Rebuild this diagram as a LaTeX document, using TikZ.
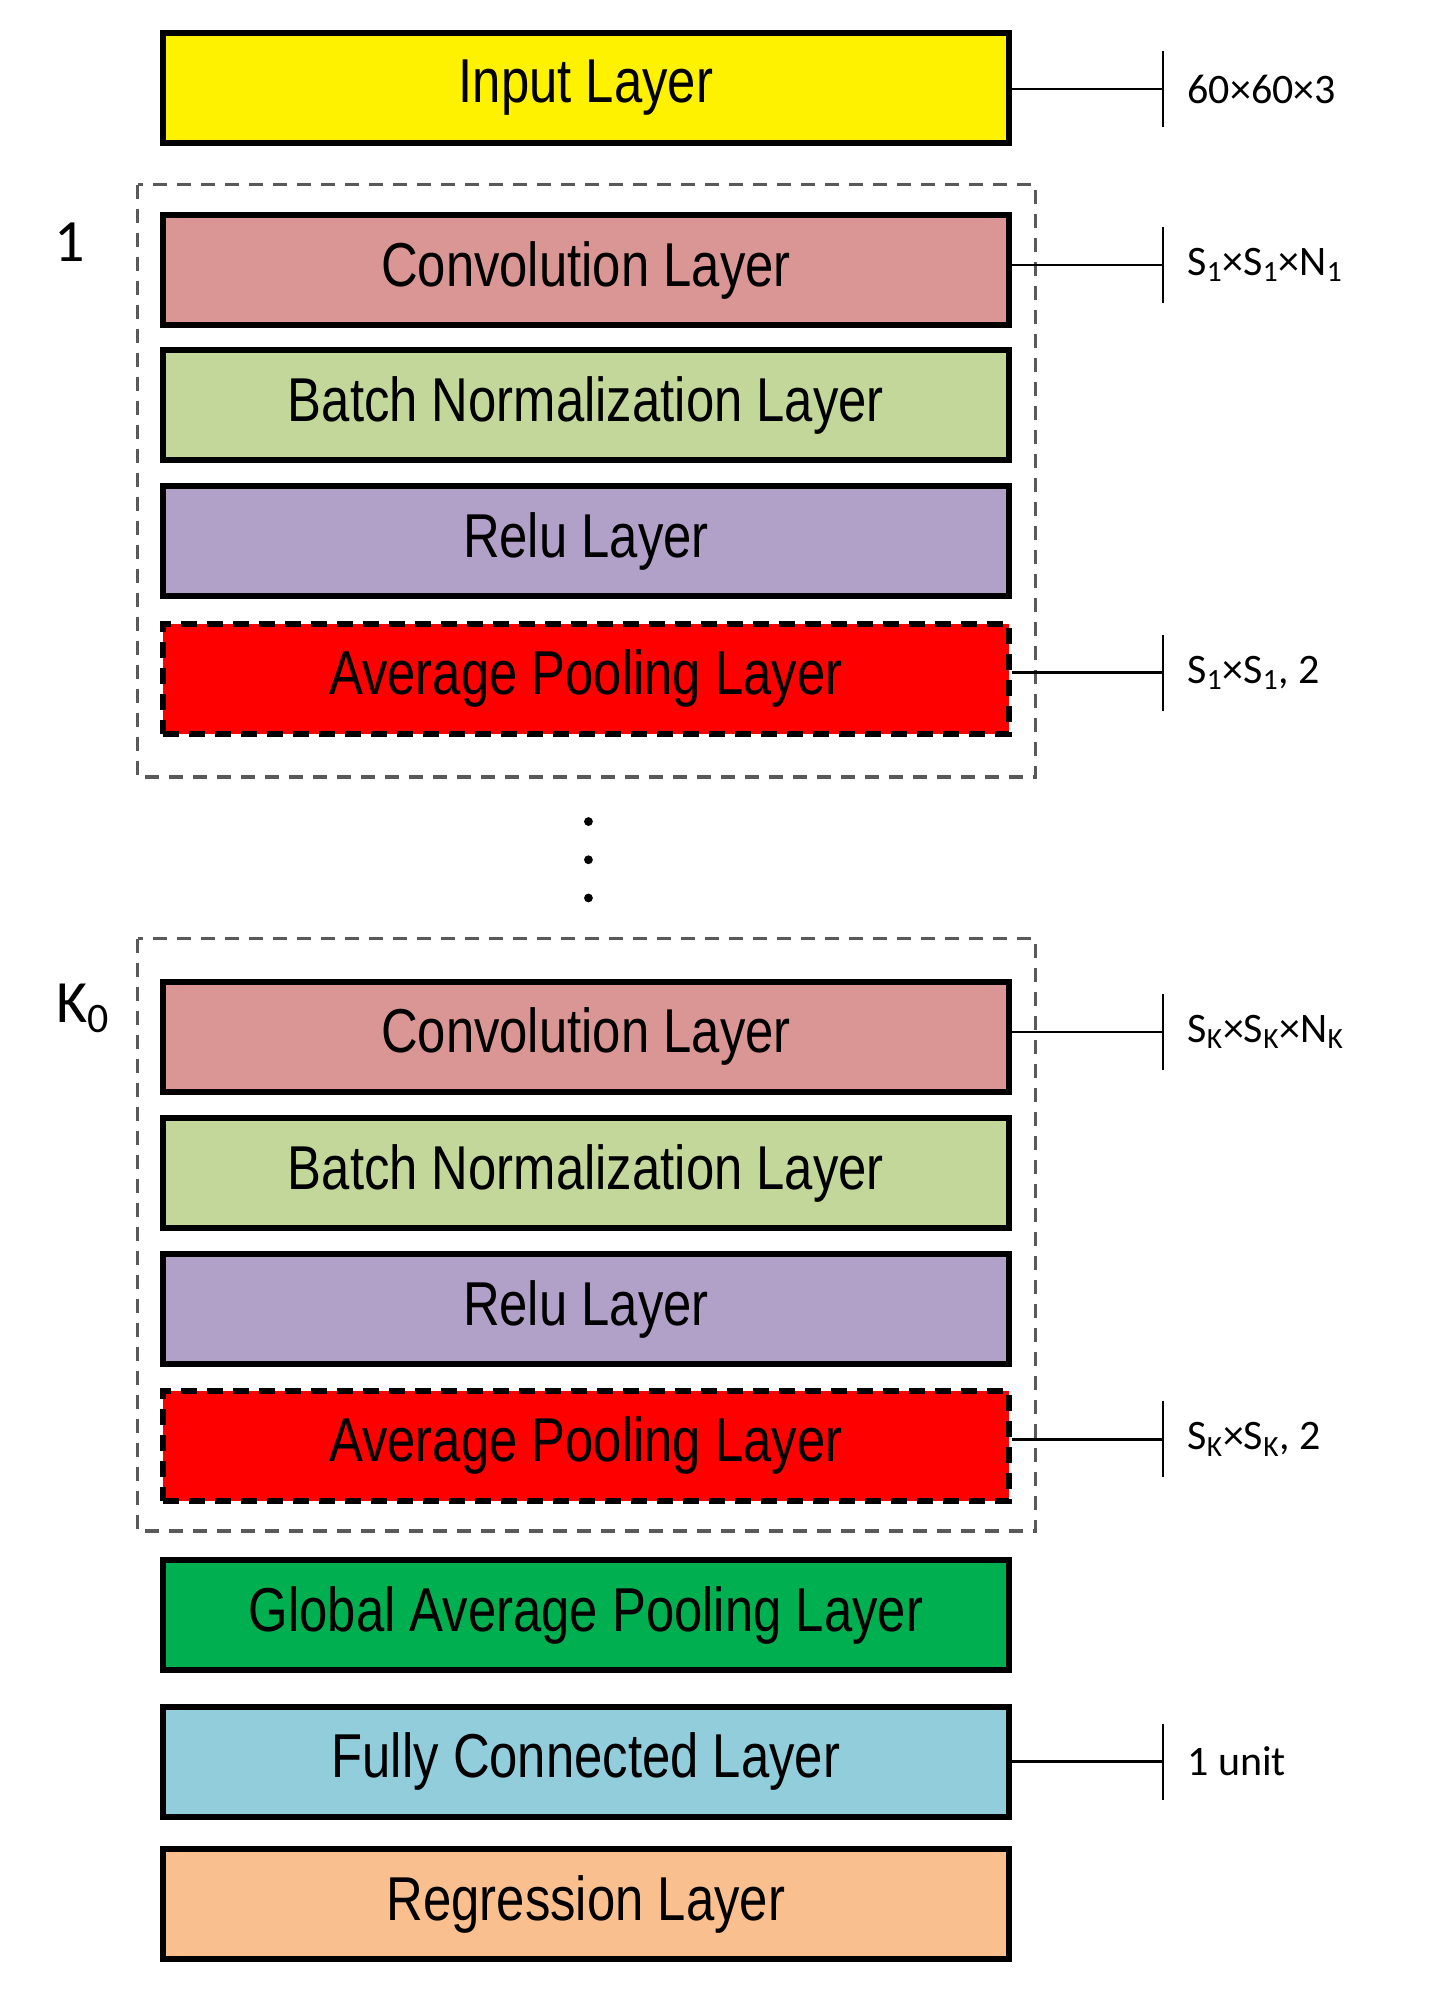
\documentclass[tikz,border=0pt]{standalone}
\usepackage{fontspec}
\setmainfont{Liberation Sans}[FakeStretch=0.82]
\newfontfamily\lab{Carlito}
\begin{document}
\begin{tikzpicture}[x=0.637pt,y=-0.637pt,
  box/.style={draw=black,line width=3pt,minimum width=423pt,minimum height=55pt,inner sep=0pt,font=\fontsize{31}{34}\selectfont},
  pool/.style={box,fill=red,dash pattern=on 8pt off 5pt},
  grp/.style={draw=black!65,line width=1.6pt,dash pattern=on 7pt off 5pt},
  ann/.style={line width=1.2pt},
  lt/.style={font=\lab\fontsize{21}{24}\selectfont,anchor=west,inner sep=0pt}]
\useasboundingbox (0,0) rectangle (1130,1571);
\definecolor{conv}{HTML}{DA9694}\definecolor{bn}{HTML}{C4D79B}
\definecolor{relu}{HTML}{B1A0C7}\definecolor{gap}{HTML}{00B050}
\definecolor{fc}{HTML}{92CDDC}\definecolor{reg}{HTML}{FABF8F}
\draw[grp] (108,145) rectangle (813,610);
\draw[grp] (108,737) rectangle (813,1202);
\node[box,fill=yellow] (in) at (460,69) {Input Layer};
\node[box,fill=conv] (c1) at (460,212) {Convolution Layer};
\node[box,fill=bn] (b1) at (460,318) {Batch Normalization Layer};
\node[box,fill=relu] (r1) at (460,425) {Relu Layer};
\node[pool] (p1) at (460,533) {Average Pooling Layer};
\node[box,fill=conv] (c2) at (460,814) {Convolution Layer};
\node[box,fill=bn] (b2) at (460,921) {Batch Normalization Layer};
\node[box,fill=relu] (r2) at (460,1028) {Relu Layer};
\node[pool] (p2) at (460,1135) {Average Pooling Layer};
\node[box,fill=gap] (g) at (460,1268) {Global Average Pooling Layer};
\node[box,fill=fc] (f) at (460,1383) {Fully Connected Layer};
\node[box,fill=reg] (rg) at (460,1495) {Regression Layer};
\node[font=\lab\fontsize{30}{32}\selectfont] (n1) at (55,190) {1};
\node[font=\lab\fontsize{30}{32}\selectfont] (nk) at (65,792) {K\textsubscript{0}};
\foreach \y [count=\i] in {645,675,705} \fill (462,\y) circle (2.2pt) coordinate (d\i);
\foreach \n/\y/\t in {in/70/60×60×3, c1/208/S\textsubscript{1}×S\textsubscript{1}×N\textsubscript{1}, p1/528/{S\textsubscript{1}×S\textsubscript{1}, 2}, c2/810/S\textsubscript{K}×S\textsubscript{K}×N\textsubscript{K}, p2/1130/{S\textsubscript{K}×S\textsubscript{K}, 2}, f/1383/1 unit}{
  \coordinate (t\n) at (913,\y);
  \draw[ann] (\n.east |- t\n) -- (t\n);
  \draw[ann] ([yshift=-19pt]t\n) -- ([yshift=19pt]t\n);
  \node[lt] (l\n) at (932,\y) {\t};
}
\end{tikzpicture}
\end{document}
